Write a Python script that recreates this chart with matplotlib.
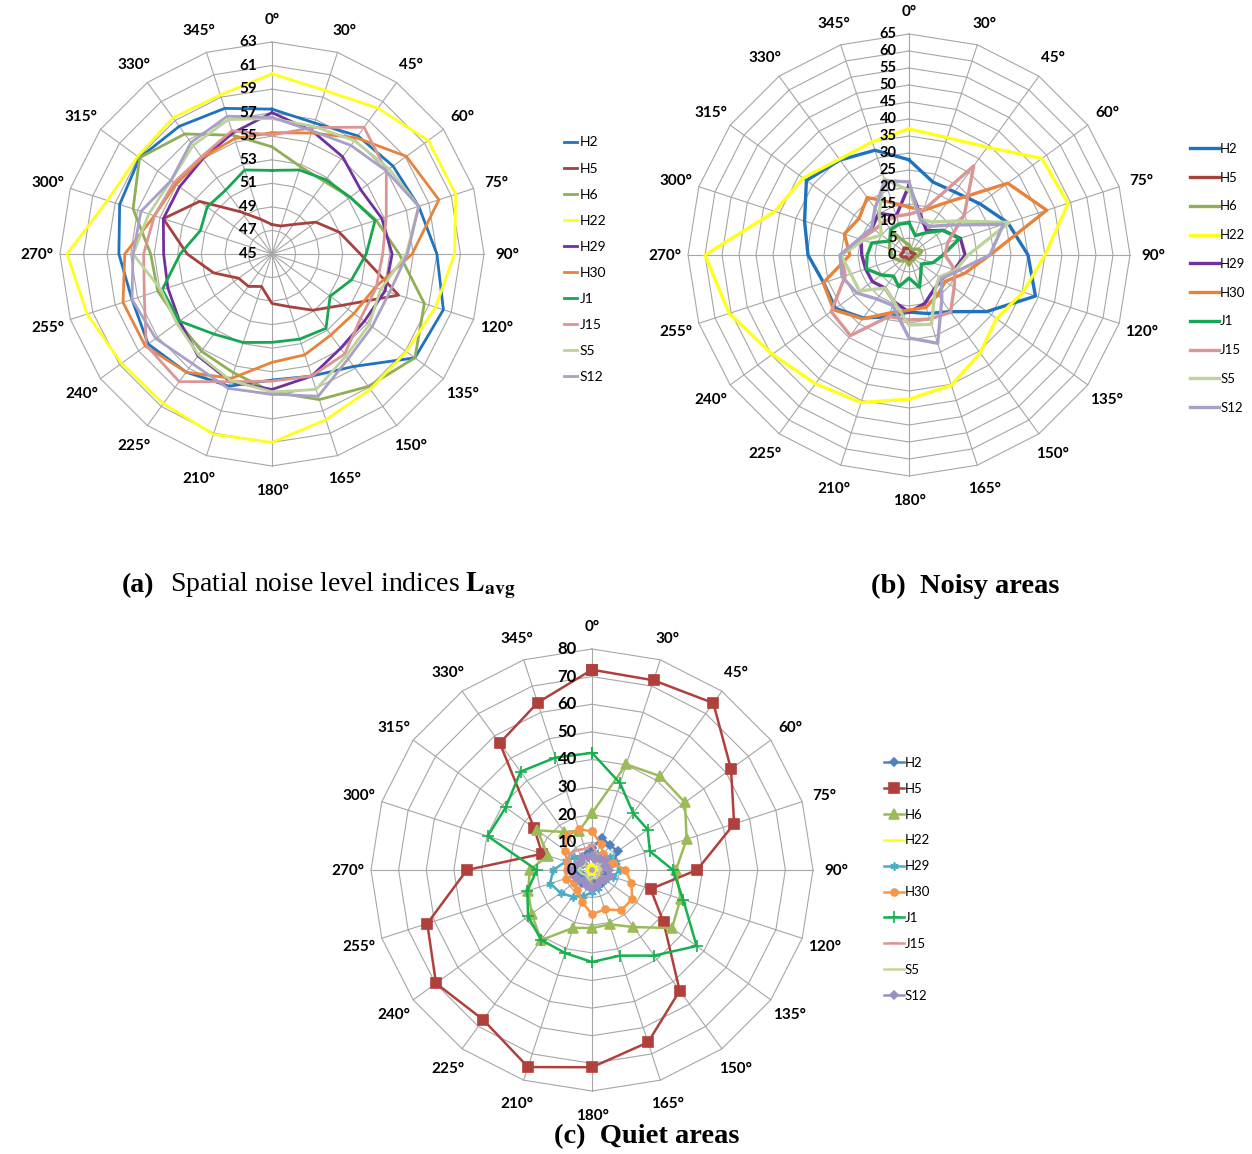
import numpy as np
import matplotlib

matplotlib.use("Agg")
import matplotlib.pyplot as plt

plt.rcParams["font.family"] = ["Lato", "DejaVu Sans"]
plt.rcParams["mathtext.fontset"] = "stix"

directions = [0, 30, 45, 60, 75, 90, 120, 135, 150, 165, 180, 210, 225, 240, 255, 270, 300, 315, 330, 345]
sites = ["H2", "H5", "H6", "H22", "H29", "H30", "J1", "J15", "S5", "S12"]

# (a) spatial noise level indices L_avg
a_H2 = [57.3, 56.7, 57.4, 57.7, 58.1, 59.0, 60.3, 60.0, 56.8, 55.9, 55.7, 56.8, 57.4, 58.0, 57.5, 58.0, 58.6, 58.9, 58.4, 58.0]
a_H5 = [47.5, 47.5, 48.1, 49.6, 51.0, 52.5, 56.3, 52.4, 50.9, 49.7, 49.2, 47.9, 48.4, 48.5, 50.2, 52.2, 54.7, 52.6, 49.4, 48.1]
a_H6 = [54.1, 52.8, 52.6, 53.2, 54.3, 55.8, 58.6, 60.0, 58.9, 58.0, 56.7, 55.6, 55.2, 54.8, 55.2, 55.3, 57.4, 58.9, 57.6, 55.6]
a_H22 = [60.3, 59.6, 60.3, 61.4, 61.4, 60.5, 59.6, 59.1, 59.2, 59.8, 61.0, 61.1, 60.7, 60.8, 61.5, 62.4, 59.7, 59.1, 59.3, 59.2]
a_H29 = [57.0, 56.0, 55.2, 54.3, 54.8, 55.2, 55.1, 54.7, 54.9, 55.9, 56.5, 56.4, 55.7, 54.7, 54.3, 54.2, 54.7, 54.7, 55.0, 55.8]
a_H30 = [55.3, 55.8, 57.2, 59.1, 59.9, 56.9, 54.2, 53.6, 53.5, 54.0, 54.2, 56.1, 57.4, 58.3, 58.3, 57.5, 55.5, 55.1, 55.1, 55.3]
a_J1 = [52.1, 52.5, 52.8, 53.2, 54.2, 53.0, 52.1, 51.1, 52.8, 52.6, 52.5, 52.9, 53.4, 54.7, 54.8, 52.8, 51.4, 51.8, 51.7, 52.5]
a_J15 = [55.1, 56.3, 58.3, 57.0, 55.2, 54.4, 54.3, 54.3, 55.5, 55.9, 55.8, 56.4, 58.4, 58.2, 56.4, 55.9, 55.5, 55.3, 55.2, 56.0]
a_S5 = [56.5, 56.4, 56.9, 57.3, 58.1, 56.4, 54.7, 55.2, 55.7, 57.1, 56.7, 56.3, 55.6, 55.0, 54.9, 56.8, 56.0, 55.6, 56.4, 57.0]
a_S12 = [56.6, 56.0, 56.4, 57.0, 58.1, 56.5, 55.5, 55.5, 56.0, 57.7, 56.9, 57.0, 56.5, 57.2, 57.5, 56.8, 56.7, 55.6, 56.7, 57.3]

# (b) noisy areas
b_H2 = [28.0, 22.6, 22.9, 25.7, 30.6, 35.0, 39.1, 28.3, 20.6, 18.1, 16.8, 19.1, 22.9, 26.7, 26.4, 29.7, 32.3, 37.3, 34.5, 32.4]
b_H5 = [2.0, 1.5, 1.0, 1.0, 1.5, 2.0, 1.5, 1.0, 1.0, 1.5, 2.0, 1.5, 1.0, 1.0, 2.0, 2.5, 2.0, 2.0, 2.5, 2.0]
b_H6 = [3.0, 2.0, 2.0, 3.0, 4.0, 3.0, 2.0, 2.0, 2.0, 2.0, 3.0, 2.0, 2.0, 3.0, 4.0, 5.0, 6.0, 7.0, 8.5, 4.0]
b_H22 = [37.1, 36.3, 39.2, 48.3, 49.2, 40.0, 35.3, 31.8, 35.6, 40.3, 42.4, 45.6, 46.8, 49.7, 55.6, 60.0, 41.5, 38.5, 34.8, 35.0]
b_H29 = [20.5, 11.7, 8.8, 12.3, 15.9, 16.5, 14.0, 12.0, 12.5, 15.0, 16.8, 14.4, 12.0, 13.3, 13.4, 13.9, 14.8, 13.4, 15.2, 12.1]
b_H30 = [14.1, 13.8, 19.2, 35.9, 42.6, 23.8, 17.3, 13.2, 14.4, 16.2, 16.2, 17.9, 23.2, 27.4, 26.5, 17.4, 20.0, 18.2, 20.9, 16.2]
b_J1 = [9.5, 6.0, 8.0, 12.4, 15.6, 10.0, 7.4, 4.5, 6.0, 10.0, 6.8, 9.8, 7.7, 10.0, 13.2, 12.3, 11.5, 7.0, 9.2, 9.5]
b_J15 = [12.0, 13.9, 32.4, 20.1, 12.0, 10.6, 14.2, 16.4, 20.8, 19.8, 19.1, 19.0, 29.3, 28.3, 19.7, 19.9, 14.9, 12.6, 12.2, 12.0]
b_S5 = [19.0, 11.0, 12.0, 17.0, 31.0, 17.4, 14.4, 11.0, 13.0, 21.4, 20.6, 14.4, 12.0, 18.0, 18.0, 20.0, 14.0, 10.0, 15.0, 23.5]
b_S12 = [21.5, 10.8, 10.4, 15.0, 29.2, 23.8, 15.1, 11.8, 16.4, 27.3, 24.4, 15.6, 16.0, 19.0, 20.7, 20.3, 15.4, 13.6, 17.0, 23.0]

# (c) quiet areas
c_H2 = [8.0, 12.2, 11.0, 11.6, 8.0, 5.0, 4.0, 5.0, 6.0, 5.0, 4.0, 5.0, 6.0, 4.0, 5.0, 6.0, 5.0, 4.0, 5.0, 6.0]
c_H5 = [72.5, 72.2, 74.7, 62.2, 54.1, 38.0, 22.3, 32.0, 54.0, 65.6, 71.4, 75.0, 67.0, 69.8, 62.7, 45.3, 19.0, 25.9, 56.8, 63.7]
c_H6 = [20.6, 40.2, 42.0, 41.6, 36.0, 30.4, 33.7, 35.8, 25.5, 20.7, 21.0, 22.0, 31.4, 27.0, 24.3, 22.5, 16.8, 24.4, 17.0, 15.0]
c_H22 = [2.0, 1.5, 1.5, 2.0, 1.5, 1.5, 2.0, 1.5, 1.5, 2.0, 1.5, 1.5, 2.0, 1.5, 1.5, 2.0, 1.5, 1.5, 2.0, 1.5]
c_H29 = [5.0, 6.0, 7.0, 8.0, 9.0, 10.0, 8.0, 6.0, 5.0, 7.0, 8.0, 10.0, 12.0, 14.0, 16.0, 14.0, 10.0, 8.0, 6.0, 5.0]
c_H30 = [14.0, 10.0, 7.0, 6.0, 8.0, 12.0, 15.0, 18.0, 18.0, 15.0, 16.0, 12.0, 9.0, 8.0, 10.0, 9.0, 9.5, 12.0, 15.3, 15.5]
c_J1 = [42.4, 33.0, 25.4, 24.9, 22.0, 29.3, 34.7, 46.8, 38.3, 32.6, 33.3, 31.6, 31.3, 28.6, 24.6, 20.0, 39.7, 38.6, 44.0, 42.8]
c_J15 = [9.0, 6.0, 5.0, 4.0, 5.0, 4.0, 3.0, 4.0, 5.0, 6.0, 5.0, 4.0, 5.0, 6.0, 7.0, 8.0, 9.0, 10.0, 9.0, 8.0]
c_S5 = [4.0, 3.0, 3.0, 4.0, 3.0, 3.0, 2.5, 3.0, 4.0, 3.0, 3.0, 4.0, 3.0, 3.0, 4.0, 5.0, 4.0, 3.0, 4.0, 5.0]
c_S12 = [5.0, 4.0, 5.0, 6.0, 5.0, 6.0, 7.0, 6.0, 5.0, 6.0, 7.0, 6.0, 5.0, 6.0, 7.0, 8.0, 6.0, 5.0, 6.0, 5.0]

colors_ab = ["#1F72BE", "#A8403C", "#8FAE55", "#FFFF1A", "#7030A0", "#E7833A", "#17A651", "#D99694", "#BCD39A", "#A8A0C6"]
colors_c = ["#4F81BD", "#B0403C", "#9BBB59", "#FFFF1A", "#4BACC6", "#F79646", "#16B04E", "#D99694", "#C3D69B", "#9C8FC4"]
markers_c = ["D", "s", "^", None, (6, 2, 0), "o", "+", "_", None, "D"]
msizes_c = [4, 7, 7, 0, 6, 5, 8, 6, 0, 4]

GRID = "#A6A6A6"


def radar(rect, series, colors, rmin, rmax, step, lw, lab_size, lab_off, markers=None, msizes=None):
    fig = plt.gcf()
    ax = fig.add_axes(rect, projection="polar")
    ax.set_theta_zero_location("N")
    ax.set_theta_direction(-1)
    ax.set_ylim(rmin, rmax)
    ax.grid(False)
    ax.spines["polar"].set_visible(False)
    ax.patch.set_visible(False)
    ax.set_xticks([])
    ax.set_yticks([])

    n = len(directions)
    theta = np.deg2rad(np.arange(n) * 360.0 / n)
    closed = np.r_[theta, theta[0]]

    ticks = np.arange(rmin, rmax + step / 2, step)
    for r in ticks[1:]:
        ax.plot(closed, np.full(n + 1, r), color=GRID, lw=0.8, zorder=1, clip_on=False)
    for t in theta:
        ax.plot([t, t], [rmin, rmax], color=GRID, lw=0.8, zorder=1, clip_on=False)

    for i, (name, vals) in enumerate(zip(sites, series)):
        v = np.r_[vals, vals[0]]
        kw = {}
        if markers is not None and markers[i] is not None:
            kw = dict(marker=markers[i], markersize=msizes[i], markeredgewidth=1.2)
        ax.plot(closed, v, color=colors[i], lw=lw, label=name, zorder=3 + i, clip_on=False, **kw)

    for r in ticks:
        ax.annotate(f"{r:g}", xy=(0, r), xytext=(-lab_off, 0), textcoords="offset points",
                    ha="right", va="center", fontsize=lab_size, fontweight="bold", zorder=20)

    for t, d in zip(theta, directions):
        off = 17
        ax.annotate(f"{d}°", xy=(t, rmax), xytext=(off * np.sin(t), off * np.cos(t) - 1),
                    textcoords="offset points", ha="center", va="center",
                    fontsize=11, fontweight="bold")
    return ax


fig = plt.figure(figsize=(12.52, 11.54), dpi=100)
W, H = 1252, 1154


def rect_px(cx, cy, rad):
    return [(cx - rad) / W, 1 - (cy + rad) / H, 2 * rad / W, 2 * rad / H]


ax_a = radar(rect_px(272, 254, 212),
             [a_H2, a_H5, a_H6, a_H22, a_H29, a_H30, a_J1, a_J15, a_S5, a_S12],
             colors_ab, 45, 63, 2, 2.0, 11, 11)
ax_a.legend(loc="upper left", bbox_to_anchor=(551 / W, 1 - 124 / H), bbox_transform=fig.transFigure,
            frameon=False, fontsize=10, handlelength=1.0, handletextpad=0.15, labelspacing=1.01)

ax_b = radar(rect_px(909, 255, 221),
             [b_H2, b_H5, b_H6, b_H22, b_H29, b_H30, b_J1, b_J15, b_S5, b_S12],
             colors_ab, 0, 65, 5, 2.4, 10.5, 9)
ax_b.legend(loc="upper left", bbox_to_anchor=(1178 / W, 1 - 131 / H), bbox_transform=fig.transFigure,
            frameon=False, fontsize=9.5, handlelength=2.2, handletextpad=0.1, labelspacing=1.27)

ax_c = radar(rect_px(592, 870, 221),
             [c_H2, c_H5, c_H6, c_H22, c_H29, c_H30, c_J1, c_J15, c_S5, c_S12],
             colors_c, 0, 80, 10, 1.8, 12, 11, markers_c, msizes_c)
ax_c.legend(loc="upper left", bbox_to_anchor=(872 / W, 1 - 745 / H), bbox_transform=fig.transFigure,
            frameon=False, fontsize=9.5, handlelength=1.5, handletextpad=0.1, labelspacing=1.05)

serif = ["Liberation Serif", "DejaVu Serif"]
fig.text(122 / W, 1 - 586 / H, "(a)", fontsize=20, fontweight="bold", family=serif, va="center")
fig.text(170 / W, 1 - 586 / H, r"Spatial noise level indices $\mathbf{L}_{\mathbf{avg}}$",
         fontsize=20, family=serif, va="center")
fig.text(965 / W, 1 - 586 / H, "(b)  Noisy areas", fontsize=20.5, fontweight="bold", family=serif,
         va="center", ha="center")
fig.text(647 / W, 1 - 1137 / H, "(c)  Quiet areas", fontsize=20.5, fontweight="bold", family=serif,
         va="center", ha="center")

fig.savefig("out.png", dpi=100)
